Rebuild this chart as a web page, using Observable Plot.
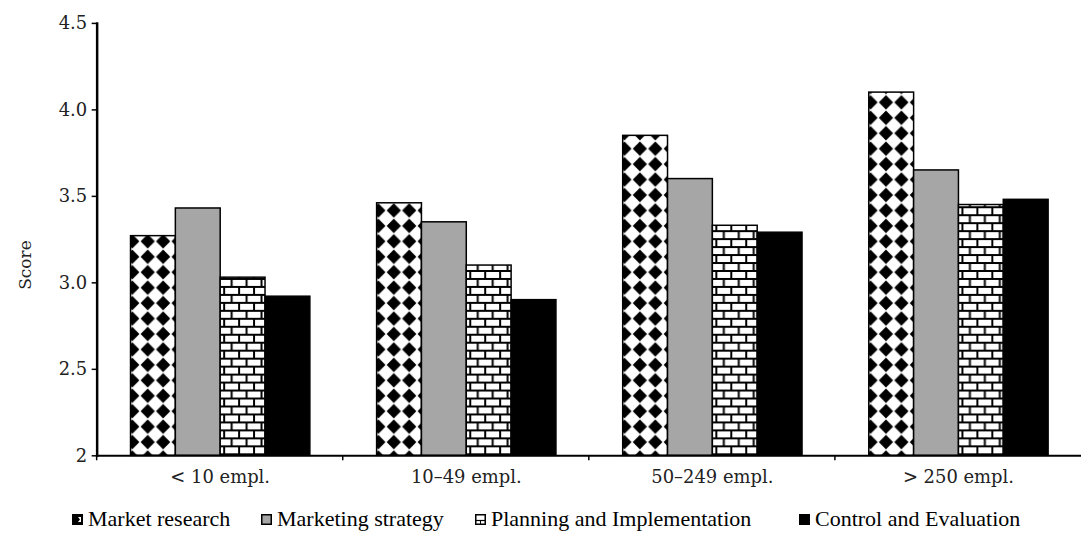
<!DOCTYPE html>
<html><head><meta charset="utf-8">
<script src="https://cdn.jsdelivr.net/npm/d3@7"></script>
<script src="https://cdn.jsdelivr.net/npm/@observablehq/plot@0.6"></script>
<style>
html,body{margin:0;padding:0;background:#fff;overflow:hidden;}
#wrap{position:relative;width:1081px;height:544px;overflow:hidden;}
#chart{position:absolute;left:0;top:0;}
#legend{position:absolute;top:505px;left:0;width:1081px;height:28px;}
.item{position:absolute;top:0;display:flex;align-items:center;white-space:nowrap;line-height:28px;font-family:'Liberation Serif','DejaVu Serif Condensed',serif;font-size:22px;color:#000;}
.item svg{margin-right:5px;display:block;}
#ylabel{position:absolute;left:25px;top:265px;transform:translate(-50%,-50%) rotate(-90deg);font-family:"DejaVu Serif",serif;font-size:17px;color:#222;white-space:nowrap;}
</style></head><body><div id="wrap"><div id="chart"></div><div id="ylabel">Score</div><div id="legend"></div></div>
<script>
const groups = ["< 10 empl.", "10–49 empl.", "50–249 empl.", "> 250 empl."];
const series = ["Market research", "Marketing strategy", "Planning and Implementation", "Control and Evaluation"];
const marketResearch    = [3.27, 3.46, 3.85, 4.10];
const marketingStrategy = [3.43, 3.35, 3.60, 3.65];
const planningImpl      = [3.03, 3.10, 3.33, 3.45];
const controlEval       = [2.92, 2.90, 3.29, 3.48];
const yTicks = [2, 2.5, 3, 3.5, 4, 4.5];
const fills = ["url(#pat-diamond)", "#a6a6a6", "url(#pat-brick)", "#000000"];
const legendLeft = [72, 261, 475, 799];

const valuesBySeries = [marketResearch, marketingStrategy, planningImpl, controlEval];
const data = groups.flatMap((g, gi) => series.map((s, si) => ({group: g, series: s, value: valuesBySeries[si][gi]})));

const boundaryTicks = (index, scales, values, dims) => {
  const y0 = scales.y(2);
  const el = document.createElementNS("http://www.w3.org/2000/svg", "line");
  el.setAttribute("x1", dims.marginLeft);
  el.setAttribute("x2", dims.marginLeft);
  el.setAttribute("y1", y0);
  el.setAttribute("y2", y0 + 5);
  el.setAttribute("stroke", "#000");
  el.setAttribute("stroke-width", 1.5);
  return el;
};

const plot = Plot.plot({
  width: 1085, height: 490,
  marginLeft: 97, marginRight: 0, marginTop: 23, marginBottom: 33,
  style: {fontFamily: "DejaVu Serif", fontSize: "18px", color: "#222", background: "white", overflow: "visible"},
  fx: {domain: groups, padding: 0, label: null},
  x: {domain: series, paddingInner: 0, paddingOuter: 0.733, axis: null},
  y: {domain: [2, 4.5], axis: null},
  color: {domain: series, range: fills},
  marks: [
    Plot.barY(data, {fx: "group", x: "series", y1: 2, y2: "value", fill: "series", stroke: "#000", strokeWidth: 1.5}),
    Plot.ruleY([2], {stroke: "#000", strokeWidth: 2}),
    Plot.frame({anchor: "left", facetAnchor: "left", stroke: "#000", strokeWidth: 2.5}),
    boundaryTicks,
    Plot.axisY({ticks: yTicks, tickSize: 5, tickPadding: 5, tickFormat: d => d === 2 ? "2" : d.toFixed(1), label: null, fontSize: 18, stroke: "#000", fill: "#222", strokeWidth: 1.5}),
    Plot.axisFx({anchor: "bottom", tickSize: 0, tickPadding: 15, label: null, fontSize: 18, fill: "#222"})
  ]
});

const ns = "http://www.w3.org/2000/svg";
const defs = document.createElementNS(ns, "defs");
defs.innerHTML = `
<pattern id="pat-diamond" patternUnits="userSpaceOnUse" width="15.5" height="15.5" x="1" y="2">
  <rect width="15.5" height="15.5" fill="#fff"/>
  <polygon points="7.75,0.6 14.9,7.75 7.75,14.9 0.6,7.75" fill="#000"/>
</pattern>
<pattern id="pat-brick" patternUnits="userSpaceOnUse" width="15" height="16" x="0" y="0">
  <rect width="15" height="16" fill="#000"/>
  <rect x="1" y="1" width="13" height="6" fill="#fff"/>
  <rect x="-6.5" y="9" width="13" height="6" fill="#fff"/>
  <rect x="8.5" y="9" width="13" height="6" fill="#fff"/>
</pattern>`;
plot.insertBefore(defs, plot.firstChild);
document.getElementById("chart").appendChild(plot);

const swatches = [
  `<rect x="0.5" y="0.5" width="10" height="10" fill="#000" stroke="#000"/><polygon points="6,3 9,3 9,8 6,8 8,5.5" fill="#fff"/>`,
  `<rect x="0.75" y="0.75" width="9.5" height="9.5" fill="#a6a6a6" stroke="#000" stroke-width="1.5"/>`,
  `<rect x="0.75" y="0.75" width="9.5" height="9.5" fill="#fff" stroke="#000" stroke-width="1.5"/><line x1="1" x2="10" y1="6.5" y2="6.5" stroke="#000" stroke-width="1.2"/><line x1="5.5" x2="5.5" y1="6.5" y2="10" stroke="#000" stroke-width="1"/>`,
  `<rect x="0" y="0" width="11" height="11" fill="#000"/>`
];
const legend = document.getElementById("legend");
series.forEach((s, i) => {
  const div = document.createElement("div");
  div.className = "item";
  div.style.left = legendLeft[i] + "px";
  div.innerHTML = `<svg width="11" height="11" viewBox="0 0 11 11">${swatches[i]}</svg><span>${s}</span>`;
  legend.appendChild(div);
});
</script></body></html>
